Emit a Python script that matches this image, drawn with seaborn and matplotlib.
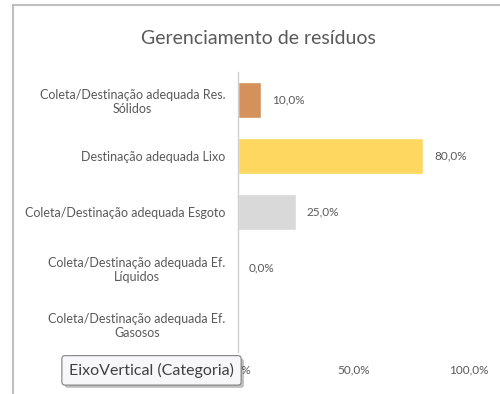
import numpy as np
import pandas as pd
import matplotlib
matplotlib.use("Agg")
import matplotlib.pyplot as plt
import matplotlib.patheffects as pe
from matplotlib.lines import Line2D
from matplotlib.ticker import FuncFormatter
import seaborn as sns

categories = [
    "Coleta/Destinação adequada Res.\nSólidos",
    "Destinação adequada Lixo",
    "Coleta/Destinação adequada Esgoto",
    "Coleta/Destinação adequada Ef.\nLíquidos",
    "Coleta/Destinação adequada Ef.\nGasosos",
]
values = [10.0, 80.0, 25.0, 0.0, np.nan]
bar_colors = ["#D4915C", "#FDD760", "#D9D9D9", "#A5A5A5", "#5B9BD5"]
x_ticks = [0, 50, 100]

sns.set_style("white")
plt.rcParams["font.family"] = ["Lato", "DejaVu Sans"]

df = pd.DataFrame({"categoria": categories, "valor": values})

fig = plt.figure(figsize=(5.0, 3.94), dpi=100)
ax = fig.add_axes([0.476, 0.1066, 0.462, 0.7106])

sns.barplot(data=df, y="categoria", x="valor", hue="categoria",
            palette=bar_colors, order=categories, hue_order=categories,
            width=0.63, dodge=False, legend=False, ax=ax, saturation=1)

ax.set_xlim(0, 100)
ax.set_xticks(x_ticks)
ax.xaxis.set_major_formatter(FuncFormatter(lambda v, _: f"{v:.1f}%".replace(".", ",")))
ax.set_xlabel("")
ax.set_ylabel("")

for side in ["top", "right", "bottom"]:
    ax.spines[side].set_visible(False)
ax.spines["left"].set_color("#D0D0D0")
ax.spines["left"].set_linewidth(1.0)
ax.tick_params(axis="both", length=0, colors="#595959")
ax.tick_params(axis="x", pad=9, labelsize=8.5)
ax.tick_params(axis="y", pad=9, labelsize=9)
for lbl in ax.get_yticklabels():
    lbl.set_multialignment("center")

# value labels next to each bar
for cont in ax.containers:
    vals = cont.datavalues
    labels = ["" if np.isnan(v) else f"{v:.1f}%".replace(".", ",") for v in vals]
    ax.bar_label(cont, labels=labels, padding=8, fontsize=8.5, color="#595959")

fig.text(0.516, 0.902, "Gerenciamento de resíduos", ha="center", va="center",
         fontsize=14, color="#595959")

# chart frame edges
fig.add_artist(Line2D([0.026, 0.026], [0, 0.987], transform=fig.transFigure,
                      color="#BFBFBF", lw=1.5))
fig.add_artist(Line2D([0.026, 1.0], [0.987, 0.987], transform=fig.transFigure,
                      color="#BFBFBF", lw=1.5))

# hover tooltip over the category axis
tip = fig.text(0.303, 0.06, "EixoVertical (Categoria)", ha="center", va="center",
               fontsize=11.5, color="#404040", zorder=10,
               bbox=dict(boxstyle="round,pad=0.45,rounding_size=0.2",
                         facecolor="#F7F7FA", edgecolor="#808080", lw=0.8))
tip.get_bbox_patch().set_path_effects(
    [pe.SimplePatchShadow(offset=(2, -2), alpha=0.35), pe.Normal()])

fig.savefig("out.png", dpi=100)
